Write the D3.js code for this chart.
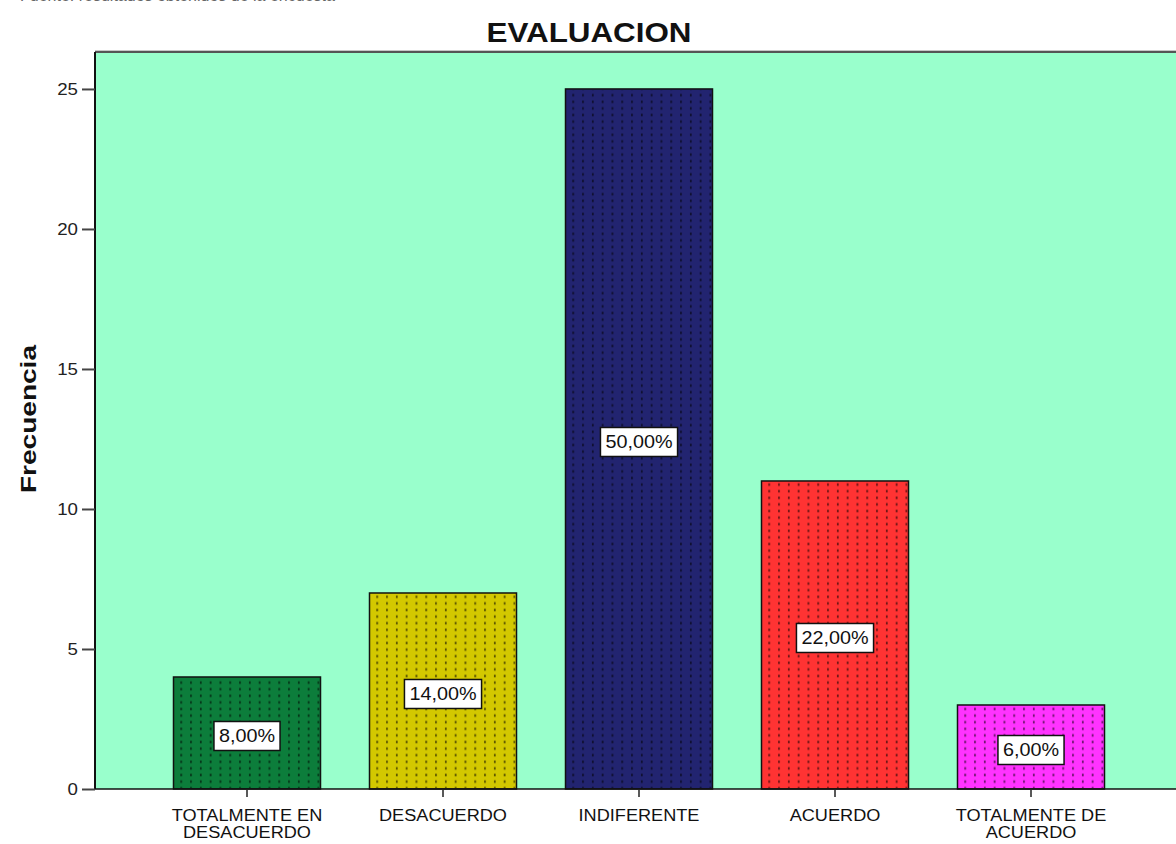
<!DOCTYPE html>
<html>
<head>
<meta charset="utf-8">
<script src="https://cdn.jsdelivr.net/npm/d3@7"></script>
<style>
  html, body { margin: 0; padding: 0; background: #ffffff; overflow: hidden; }
  svg { display: block; }
  text { font-family: Arial, "Liberation Sans", sans-serif; }
</style>
</head>
<body>
<svg id="chart" width="1176" height="844"></svg>
<script>
// Category labels (two lines where the original wraps)
const categories = [
  ["TOTALMENTE EN", "DESACUERDO"],
  ["DESACUERDO"],
  ["INDIFERENTE"],
  ["ACUERDO"],
  ["TOTALMENTE DE", "ACUERDO"]
];
// Frequencies per category
const frequencies = [4, 7, 25, 11, 3];
// Percentage labels shown on each bar
const percentLabels = ["8,00%", "14,00%", "50,00%", "22,00%", "6,00%"];
// Bar fill colours
const barColors = ["#0c7d3b", "#d3c800", "#222470", "#ff3333", "#ff33ff"];
// Y axis ticks
const yTicks = [0, 5, 10, 15, 20, 25];

// Horizontal widening of body text glyphs
const WIDEN = 1.1;

const svg = d3.select("#chart");

const plot = { left: 95, right: 1184, top: 52, bottom: 789 };

const x = d3.scaleBand()
  .domain(d3.range(categories.length))
  .range([149, 1129])
  .paddingInner(0.25)
  .paddingOuter(0.125);

const y = d3.scaleLinear()
  .domain([0, 26.32])
  .range([plot.bottom, plot.top]);

// Places a text at (px, py) with glyphs widened horizontally
function wideText(parent, px, py, str, size, anchor) {
  return parent.append("text")
    .attr("transform", `translate(${px},${py}) scale(${WIDEN},1)`)
    .attr("text-anchor", anchor || "middle")
    .attr("font-size", size)
    .attr("fill", "#111")
    .text(str);
}

// Source note above the title, mostly clipped by the top edge
svg.append("text")
  .attr("x", 20)
  .attr("y", 1)
  .attr("font-size", 16)
  .attr("fill", "#666")
  .text("Fuente: resultados obtenidos de la encuesta");

// Dotted hatch used inside every bar
const defs = svg.append("defs");
const pat = defs.append("pattern")
  .attr("id", "dots")
  .attr("patternUnits", "userSpaceOnUse")
  .attr("x", 0).attr("y", 0)
  .attr("width", 9.8)
  .attr("height", 6.6);
pat.append("rect")
  .attr("x", 4).attr("y", 1.5)
  .attr("width", 1.6).attr("height", 2.6)
  .attr("fill", "rgba(0,0,0,0.62)");

// Plot background
svg.append("rect")
  .attr("x", plot.left)
  .attr("y", plot.top)
  .attr("width", plot.right - plot.left)
  .attr("height", plot.bottom - plot.top)
  .attr("fill", "#99ffcc");

// Frame top shading
svg.append("line")
  .attr("x1", plot.left).attr("x2", plot.right)
  .attr("y1", plot.top - 1.5).attr("y2", plot.top - 1.5)
  .attr("stroke", "#c8c8c8").attr("stroke-width", 1);
svg.append("line")
  .attr("x1", plot.left).attr("x2", plot.right)
  .attr("y1", plot.top).attr("y2", plot.top)
  .attr("stroke", "#555").attr("stroke-width", 2);

// Bars
const bars = svg.append("g");
bars.selectAll("rect.bar")
  .data(frequencies)
  .join("rect")
  .attr("class", "bar")
  .attr("x", (d, i) => x(i))
  .attr("y", d => y(d))
  .attr("width", x.bandwidth())
  .attr("height", d => y(0) - y(d))
  .attr("fill", (d, i) => barColors[i])
  .attr("stroke", "#111")
  .attr("stroke-width", 1.5);
bars.selectAll("rect.hatch")
  .data(frequencies)
  .join("rect")
  .attr("class", "hatch")
  .attr("x", (d, i) => x(i) + 1)
  .attr("y", d => y(d) + 1)
  .attr("width", x.bandwidth() - 2)
  .attr("height", d => y(0) - y(d) - 2)
  .attr("fill", "url(#dots)");

// Percentage labels in white boxes
const labels = svg.append("g");
frequencies.forEach((d, i) => {
  const cx = x(i) + x.bandwidth() / 2;
  const cy = (y(d) + y(0)) / 2 + 3;
  const g = labels.append("g");
  const t = wideText(g, cx, cy + 6.5, percentLabels[i], 18);
  const w = t.node().getComputedTextLength() * WIDEN;
  g.insert("rect", "text")
    .attr("x", cx - w / 2 - 5)
    .attr("y", cy - 14.5)
    .attr("width", w + 10)
    .attr("height", 29)
    .attr("fill", "#ffffff")
    .attr("stroke", "#111")
    .attr("stroke-width", 1.5);
});

// Y axis (labels drawn separately so they can be widened)
const yAxis = svg.append("g")
  .attr("transform", `translate(${plot.left},0)`)
  .call(d3.axisLeft(y).tickValues(yTicks).tickSize(13).tickFormat(""));
yAxis.select(".domain").attr("stroke", "#111").attr("stroke-width", 2)
  .attr("d", `M0,${plot.top}V${plot.bottom}`);
yAxis.selectAll(".tick line").attr("stroke", "#444").attr("stroke-width", 2);
yTicks.forEach(v => {
  wideText(svg, plot.left - 17, y(v) + 6, d3.format("d")(v), 17, "end")
    .attr("fill", "#222");
});

// X axis
const xAxis = svg.append("g")
  .attr("transform", `translate(0,${plot.bottom})`)
  .call(d3.axisBottom(x).tickSize(8).tickFormat(""));
xAxis.select(".domain").attr("stroke", "#111").attr("stroke-width", 1.5)
  .attr("d", `M${plot.left},0H${plot.right}`);
xAxis.selectAll(".tick line").attr("stroke", "#222").attr("stroke-width", 1.5);

// Category labels
categories.forEach((lines, i) => {
  const cx = x(i) + x.bandwidth() / 2;
  lines.forEach((ln, k) => {
    wideText(svg, cx, 821 + k * 17, ln, 16.5);
  });
});

// Title
svg.append("text")
  .attr("x", 589)
  .attr("y", 42)
  .attr("text-anchor", "middle")
  .attr("font-size", 28)
  .attr("font-weight", "bold")
  .attr("fill", "#111")
  .attr("textLength", 205)
  .attr("lengthAdjust", "spacingAndGlyphs")
  .text("EVALUACION");

// Y axis title
svg.append("text")
  .attr("transform", "translate(36,419) rotate(-90)")
  .attr("text-anchor", "middle")
  .attr("font-size", 22)
  .attr("font-weight", "bold")
  .attr("fill", "#111")
  .attr("textLength", 148)
  .attr("lengthAdjust", "spacingAndGlyphs")
  .text("Frecuencia");
</script>
</body>
</html>
